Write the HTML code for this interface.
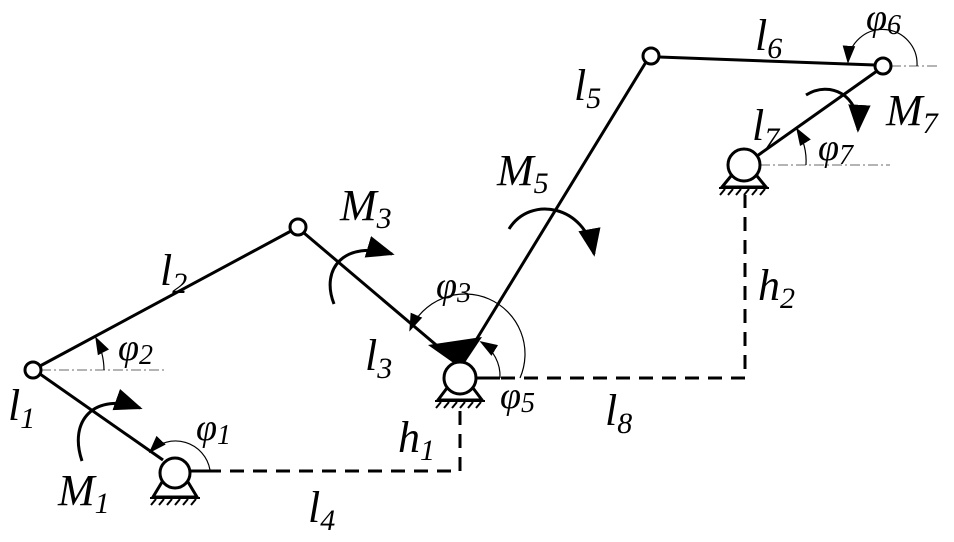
<!DOCTYPE html>
<html><head><style>body{margin:0;background:#fff}svg{display:block}text{font-family:"Liberation Serif",serif;font-style:italic;fill:#000}</style></head><body>
<svg width="954" height="542" viewBox="0 0 954 542" xmlns="http://www.w3.org/2000/svg">
<defs>
<marker id="b" viewBox="0 0 10 10" refX="9" refY="5" markerWidth="28" markerHeight="28" orient="auto" markerUnits="userSpaceOnUse"><path d="M0 1L10 5L0 9z"/></marker>
<marker id="c" viewBox="0 0 10 10" refX="9" refY="5" markerWidth="18" markerHeight="18" orient="auto" markerUnits="userSpaceOnUse"><path d="M0 1.5L10 5L0 8.5z"/></marker></defs>
<g stroke="#888" stroke-width="1.3" stroke-dasharray="10 3 2 3" fill="none">
<line x1="41" y1="370" x2="165" y2="370"/><line x1="891" y1="66" x2="940" y2="66"/><line x1="760" y1="165" x2="890" y2="165"/></g>
<g stroke="#000" stroke-width="3" stroke-dasharray="14 9" fill="none">
<polyline points="207,471 460,471 460,405"/><polyline points="478,378 745,378 745,195"/></g>
<g stroke="#000" stroke-width="3" fill="none">
<line x1="40" y1="374" x2="163" y2="460"/><line x1="40" y1="366" x2="291" y2="231"/>
<line x1="304" y1="233" x2="448" y2="355"/><line x1="646" y1="62" x2="470" y2="350"/>
<line x1="659" y1="57" x2="875" y2="65"/><line x1="757" y1="156" x2="877" y2="71"/>
<line x1="190" y1="471" x2="207" y2="471"/><line x1="476" y1="378" x2="500" y2="378"/>
</g>
<polygon points="428,345 482,337 464,364 455,364" fill="#000"/>
<g stroke="#000" stroke-width="3" fill="#fff">
<circle cx="33" cy="370" r="8"/><circle cx="298" cy="227" r="8"/><circle cx="651" cy="56" r="8"/><circle cx="883" cy="66" r="8"/>
<path d="M162 482L153 497H197L188 482" /><circle cx="175" cy="473" r="15"/>
<path d="M447 388L438 400H482L473 388"/><circle cx="460" cy="378" r="16"/>
<path d="M731 176L722 187H766L757 176"/><circle cx="744" cy="165" r="16"/>
</g>
<g stroke="#000" stroke-width="2">
<line x1="150" y1="498" x2="200" y2="498"/><line x1="435" y1="401" x2="485" y2="401"/><line x1="719" y1="188" x2="769" y2="188"/>
<path d="M156 499l-5 6M164 499l-5 6M172 499l-5 6M180 499l-5 6M188 499l-5 6M196 499l-5 6M441 402l-5 6M449 402l-5 6M457 402l-5 6M465 402l-5 6M473 402l-5 6M481 402l-5 6M725 189l-5 6M733 189l-5 6M741 189l-5 6M749 189l-5 6M757 189l-5 6M765 189l-5 6"/>
</g>
<g stroke="#000" stroke-width="1.2" fill="none">
<path d="M210 470A35 35 0 0 0 150 452" marker-end="url(#c)"/>
<path d="M104 370A71 71 0 0 0 96 338" marker-end="url(#c)"/>
<path d="M520 378A60 60 0 0 0 410 330" marker-end="url(#c)"/>
<path d="M500 378A40 40 0 0 0 481 342" marker-end="url(#c)"/>
<path d="M917 66A34 34 0 0 0 848 62" marker-end="url(#c)"/>
<path d="M806 165A62 62 0 0 0 797 129" marker-end="url(#c)"/>
</g>
<g stroke="#000" stroke-width="3" fill="none">
<path d="M82 461C68 420 95 392 140 408" marker-end="url(#b)"/>
<path d="M334 304C320 268 345 240 392 254" marker-end="url(#b)"/>
<path d="M509 229C530 195 585 205 594 254" marker-end="url(#b)"/>
<path d="M806 95C830 80 860 95 858 130" marker-end="url(#b)"/>
</g>
<g font-size="44">
<text x="160" y="285">l<tspan font-size="30" dy="8">2</tspan></text>
<text x="340" y="220">M<tspan font-size="30" dy="8">3</tspan></text>
<text x="436" y="298" font-size="38">φ<tspan font-size="28" dy="4">3</tspan></text>
<text x="365" y="370">l<tspan font-size="30" dy="8">3</tspan></text>
<text x="497" y="185">M<tspan font-size="30" dy="8">5</tspan></text>
<text x="574" y="100">l<tspan font-size="30" dy="8">5</tspan></text>
<text x="755" y="50">l<tspan font-size="30" dy="8">6</tspan></text>
<text x="866" y="30" font-size="38">φ<tspan font-size="28" dy="4">6</tspan></text>
<text x="886" y="125">M<tspan font-size="30" dy="8">7</tspan></text>
<text x="752" y="140">l<tspan font-size="30" dy="8">7</tspan></text>
<text x="818" y="160" font-size="38">φ<tspan font-size="28" dy="4">7</tspan></text>
<text x="758" y="300">h<tspan font-size="30" dy="8">2</tspan></text>
<text x="605" y="425">l<tspan font-size="30" dy="8">8</tspan></text>
<text x="398" y="452">h<tspan font-size="30" dy="8">1</tspan></text>
<text x="500" y="408" font-size="38">φ<tspan font-size="28" dy="4">5</tspan></text>
<text x="8" y="420">l<tspan font-size="30" dy="8">1</tspan></text>
<text x="58" y="505">M<tspan font-size="30" dy="8">1</tspan></text>
<text x="196" y="440" font-size="38">φ<tspan font-size="28" dy="4">1</tspan></text>
<text x="308" y="522">l<tspan font-size="30" dy="8">4</tspan></text>
<text x="118" y="360" font-size="38">φ<tspan font-size="28" dy="4">2</tspan></text>
</g>
</svg></body></html>
